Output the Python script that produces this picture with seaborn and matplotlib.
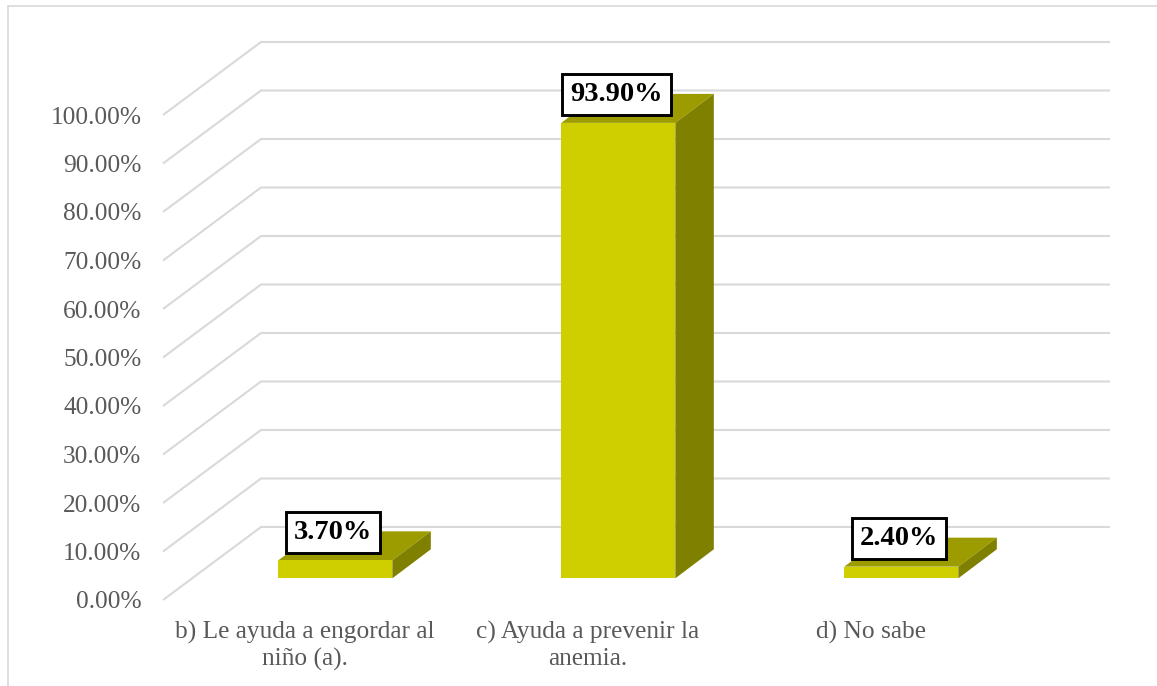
import matplotlib
matplotlib.use("Agg")
import matplotlib.pyplot as plt
from matplotlib.lines import Line2D
from matplotlib.patches import Polygon
from matplotlib.transforms import Affine2D
import pandas as pd
import seaborn as sns

categories = ["b) Le ayuda a engordar al\nniño (a).", "c) Ayuda a prevenir la\nanemia.", "d) No sabe"]
values = [0.037, 0.939, 0.024]
value_labels = ["3.70%", "93.90%", "2.40%"]
tick_values = [0.0, 0.1, 0.2, 0.3, 0.4, 0.5, 0.6, 0.7, 0.8, 0.9, 1.0]
tick_labels = ["0.00%", "10.00%", "20.00%", "30.00%", "40.00%", "50.00%",
               "60.00%", "70.00%", "80.00%", "90.00%", "100.00%"]

W, H = 1157, 686
CAT_PX = 283.0
VAL_PX = 485.0
GREY = "#d9d9d9"

sns.set_theme(style="white")
plt.rcParams["font.family"] = ["Liberation Serif", "DejaVu Serif"]

fig = plt.figure(figsize=(W / 100, H / 100), dpi=100)
ax = fig.add_axes([163 / W, (H - 600) / H, 849 / W, VAL_PX / H])

df = pd.DataFrame({"cat": categories, "val": values})
sns.barplot(data=df, x="cat", y="val", color="#cfcf00", saturation=1, width=0.403, ax=ax, zorder=3)
ax.set_xlim(-0.5, 2.5)
ax.set_ylim(0, 1)
ax.set_xlabel("")
ax.set_ylabel("")
sns.despine(ax=ax, left=True, bottom=True)

# depth of the fake 3d, in data units
wall_dx, wall_dy = 98 / CAT_PX, 73 / VAL_PX
bar_dx, bar_dy = 30.8 / CAT_PX, 21.7 / VAL_PX
depth_dx, depth_dy = 38.5 / CAT_PX, 29 / VAL_PX

# side wall and back wall gridlines
for t in tick_values:
    ax.plot([-0.5, -0.5 + wall_dx, 2.5 + wall_dx], [t, t + wall_dy, t + wall_dy],
            color=GREY, lw=1.5, clip_on=False, zorder=1, solid_capstyle="butt")

shift = Affine2D().translate(bar_dx, bar_dy) + ax.transData
for bar in ax.patches:
    bar.set_transform(shift)
    bar.set_clip_on(False)
    bar.set_linewidth(0)
    x0, x1 = bar.get_x(), bar.get_x() + bar.get_width()
    h = bar.get_height()
    top = Polygon([(x0, h), (x1, h), (x1 + depth_dx, h + depth_dy), (x0 + depth_dx, h + depth_dy)],
                  closed=True, fc="#9c9c00", ec="none", transform=shift, clip_on=False, zorder=2)
    side = Polygon([(x1, 0), (x1 + depth_dx, depth_dy), (x1 + depth_dx, h + depth_dy), (x1, h)],
                   closed=True, fc="#808000", ec="none", transform=shift, clip_on=False, zorder=2)
    ax.add_patch(top)
    ax.add_patch(side)

for i, (v, lab) in enumerate(zip(values, value_labels)):
    ax.text(i + bar_dx - 2 / CAT_PX, v + bar_dy + 28 / VAL_PX, lab, ha="center", va="center",
            fontsize=20.5, fontweight="bold", color="black", zorder=5, clip_on=False,
            bbox=dict(boxstyle="square,pad=0.28", fc="white", ec="black", lw=2.1))

ax.set_yticks(tick_values)
ax.set_yticklabels(tick_labels)
ax.tick_params(axis="y", length=0, pad=15.5, labelsize=18.3, labelcolor="#595959")
ax.tick_params(axis="x", length=0, pad=15, labelsize=18.3, labelcolor="#595959")
for lab in ax.get_yticklabels():
    lab.set_verticalalignment("center_baseline")
for lab in ax.get_xticklabels():
    lab.set_linespacing(1.22)

# chart frame, only top and left show
fig.add_artist(Line2D([7.5 / W, 7.5 / W], [0, 1 - 5.5 / H], color=GREY, lw=1.2))
fig.add_artist(Line2D([7.5 / W, 1], [1 - 5.5 / H, 1 - 5.5 / H], color=GREY, lw=1.2))

fig.savefig("out.png", dpi=100, facecolor="white")
